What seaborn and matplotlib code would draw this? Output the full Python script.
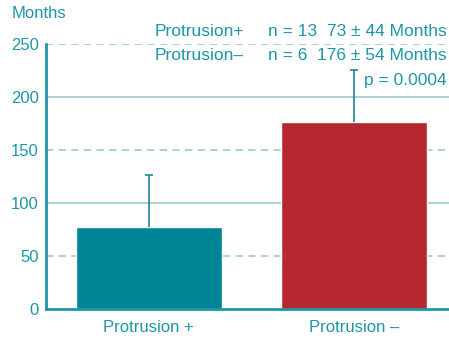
import seaborn as sns
import matplotlib.pyplot as plt
import numpy as np

# data
groups = ["Protrusion +", "Protrusion \u2013"]
means = [77, 176]
errs = [49, 49]
yticks = [0, 50, 100, 150, 200, 250]
bar_colors = ["#008596", "#b5282f"]

teal = "#1e96a6"
grid_col = "#9fcfd6"

sns.set_style("white")
plt.rcParams["font.family"] = ["Liberation Sans", "DejaVu Sans"]

fig = plt.figure(figsize=(4.49, 3.43), dpi=100)
ax = fig.add_axes([0.102, 0.099, 0.898, 0.773])

# grid: solid at 100/200, dashed at 50/150/250
for v in yticks[1:]:
    ls = "-" if v % 100 == 0 else (0, (4, 3))
    ax.axhline(v, color=grid_col, lw=1.3, ls=ls, zorder=0)

sns.barplot(x=groups, y=means, hue=groups, palette=bar_colors, legend=False,
            width=0.71, saturation=1, ax=ax, zorder=2)
tops = np.array(means) + np.array(errs)
ax.vlines([0, 1], means, tops, color="#1a8595", lw=1.2, zorder=3)
ax.plot([0, 1], tops, ls="none", marker="_", ms=6, mew=1.2, color="#1a8595",
        zorder=3)

ax.set_xlim(-0.501, 1.46)
ax.set_ylim(0, 250)
ax.set_yticks(yticks)
ax.tick_params(axis="both", colors=teal, labelsize=12, length=0)
ax.tick_params(axis="x", pad=8)
ax.tick_params(axis="y", pad=5)
for lab in ax.get_xticklabels() + ax.get_yticklabels():
    lab.set_color(teal)
ax.set_xlabel("")
ax.set_ylabel("")
for s in ["top", "right"]:
    ax.spines[s].set_visible(False)
ax.spines["left"].set_color(teal)
ax.spines["left"].set_linewidth(2)
ax.spines["bottom"].set_color(teal)
ax.spines["bottom"].set_linewidth(2)
ax.spines["left"].set_zorder(4)
ax.spines["bottom"].set_zorder(4)

fig.text(12 / 449, 1 - 14 / 343, "Months", color=teal, fontsize=12,
         va="center", ha="left")

rows = [("Protrusion+", "n = 13", "73 \u00b1 44 Months", 32),
        ("Protrusion\u2013", "n = 6", "176 \u00b1 54 Months", 56)]
for name, n, val, ypx in rows:
    y = 1 - ypx / 343
    fig.text(155 / 449, y, name, color=teal, fontsize=12.5, va="center", ha="left")
    fig.text(268 / 449, y, n, color=teal, fontsize=12.5, va="center", ha="left")
    fig.text(447 / 449, y, val, color=teal, fontsize=12.5, va="center", ha="right")
fig.text(447 / 449, 1 - 80 / 343, "p = 0.0004", color=teal, fontsize=12.5,
         va="center", ha="right")

fig.savefig("out.png", dpi=100)
